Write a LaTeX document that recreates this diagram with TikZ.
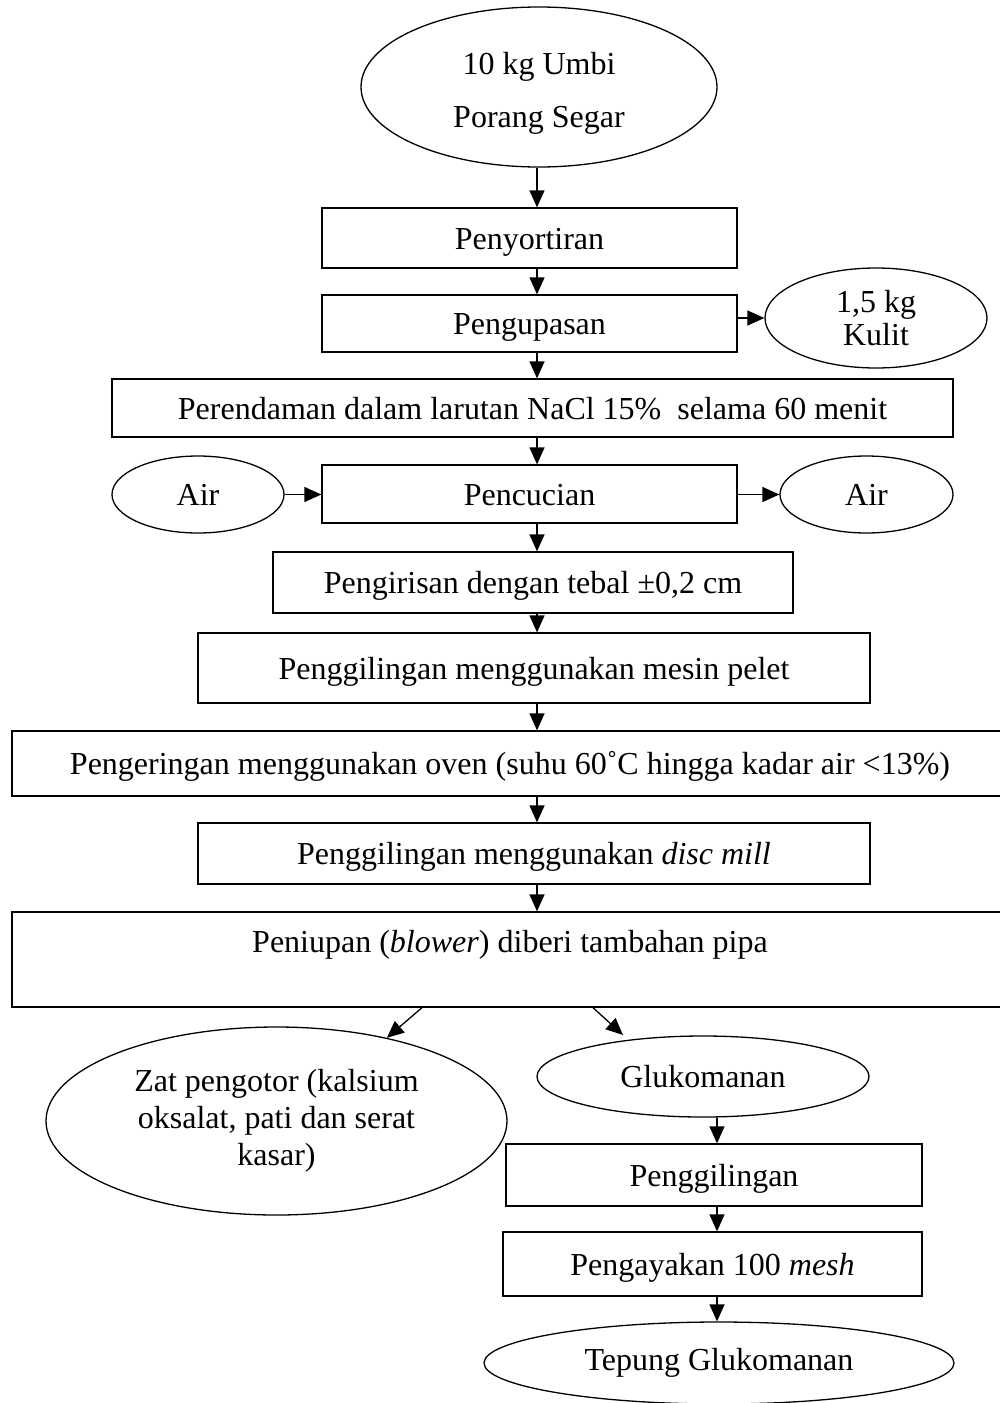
\documentclass[tikz,border=0pt]{standalone}
\usepackage{fontspec}
\setmainfont{Liberation Serif}
\usetikzlibrary{shapes.geometric,arrows.meta}

\begin{document}
\begin{tikzpicture}[x=1pt,y=-1pt,->,>={Triangle[length=17pt,width=15pt]},line width=1.3pt,
	font=\fontsize{32}{37}\selectfont,
	proc/.style={draw,rectangle,inner sep=0pt,text height=24pt,text depth=2pt},
	term/.style={draw,ellipse,inner sep=0pt}]
	\useasboundingbox (0,0) rectangle (1000,1403);
	\coordinate (axis) at (537,0);
	\coordinate (axis2) at (717,0);
	\coordinate (glukoin) at (623,1035);
	
	\node[term,minimum width=356,minimum height=160,
		label={[align=center,yshift=-6pt]center:{10 kg Umbi\\[16pt]Porang Segar}}](umbi) at (539,87){};
	\node[proc,minimum width=415,minimum height=60](sortir) at (529.5,238){Penyortiran};
	\node[proc,minimum width=415,minimum height=57](kupas) at (529.5,323.5){Pengupasan};
	\node[term,minimum width=222,minimum height=100,align=center](kulit) at (876,318){1,5 kg\\[-4pt]Kulit};
	\node[proc,minimum width=841,minimum height=58](rendam) at (532.5,408){Perendaman dalam larutan NaCl 15\% \ selama 60 menit};
	\node[proc,minimum width=415,minimum height=58](cuci) at (529.5,494){Pencucian};
	\node[term,minimum width=172,minimum height=77](airkiri) at (198,494.5){Air};
	\node[term,minimum width=173,minimum height=77](airkanan) at (866.5,494.5){Air};
	\node[proc,minimum width=520,minimum height=61](iris) at (533,582.5){Pengirisan dengan tebal ±0,2 cm};
	\node[proc,minimum width=672,minimum height=70](pelet) at (534,668){Penggilingan menggunakan mesin pelet};
	\node[proc,minimum width=996,minimum height=65](oven) at (510,763.5){Pengeringan menggunakan oven (suhu 60˚C hingga kadar air <13\%)};
	\node[proc,minimum width=672,minimum height=61](disc) at (534,853.5){Penggilingan menggunakan \textit{disc mill}};
	\node[proc,minimum width=996,minimum height=95,
		label={[yshift=14.5pt]center:Peniupan (\textit{blower}) diberi tambahan pipa}](tiup) at (510,959.5){};
	\node[term,minimum width=461,minimum height=188,align=center](zat) at (276.5,1121){Zat pengotor (kalsium\\oksalat, pati dan serat\\kasar)};
	\node[term,minimum width=332,minimum height=81](gluko) at (703,1076.5){Glukomanan};
	\node[proc,minimum width=416,minimum height=62](giling) at (714,1175){Penggilingan};
	\node[proc,minimum width=419,minimum height=64](ayak) at (712.5,1264){Pengayakan 100 \textit{mesh}};
	\node[term,minimum width=470,minimum height=82](tepung) at (719,1363){Tepung Glukomanan};
	
	\path (umbi.south -| axis) edge (sortir.north -| axis)
	      (sortir.south -| axis) edge (kupas.north -| axis)
	      (kupas.south -| axis) edge (rendam.north -| axis)
	      (rendam.south -| axis) edge (cuci.north -| axis)
	      (cuci.south -| axis) edge (iris.north -| axis)
	      (iris.south -| axis) edge (pelet.north -| axis)
	      (pelet.south -| axis) edge (oven.north -| axis)
	      (oven.south -| axis) edge (disc.north -| axis)
	      (disc.south -| axis) edge (tiup.north -| axis);
	\path (kupas.east |- kulit.west) edge (kulit.west)
	      (airkiri.east) edge (airkiri.east -| cuci.west)
	      (cuci.east |- airkanan.west) edge (airkanan.west);
	\path ([xshift=-88pt]tiup.south) edge (zat.37)
	      ([xshift=83pt]tiup.south) edge (glukoin);
	\path (gluko.south -| axis2) edge (giling.north -| axis2)
	      (giling.south -| axis2) edge (ayak.north -| axis2)
	      (ayak.south -| axis2) edge (tepung.north -| axis2);
\end{tikzpicture}
\end{document}
